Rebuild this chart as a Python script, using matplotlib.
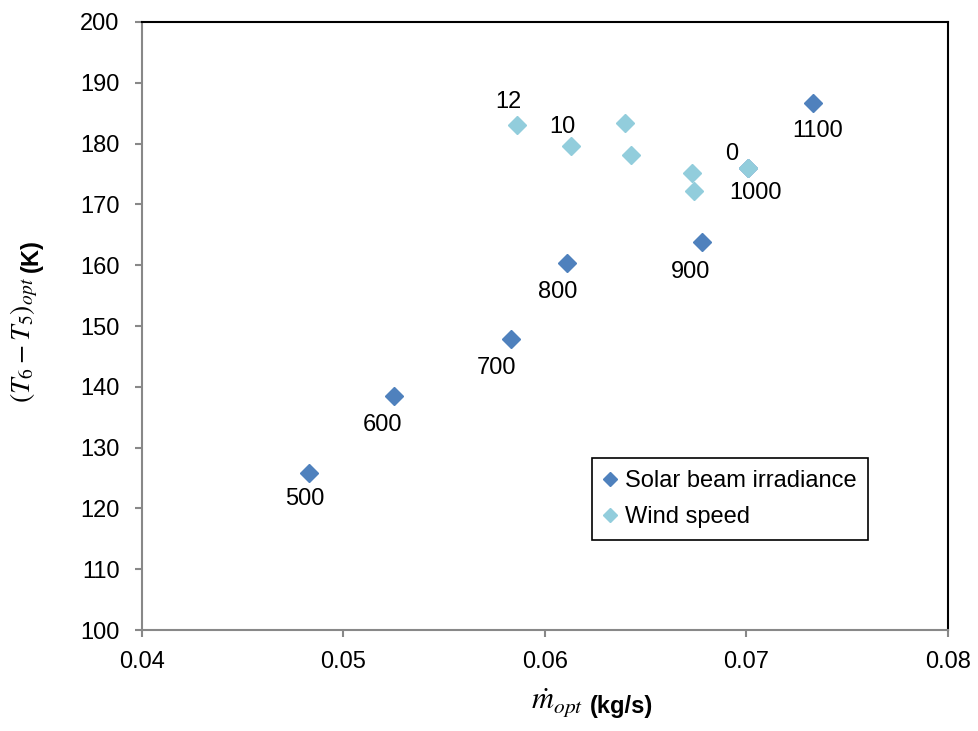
import matplotlib.pyplot as plt

plt.rcParams['font.family'] = ['Liberation Sans', 'DejaVu Sans']
plt.rcParams['mathtext.fontset'] = 'stix'

# solar beam irradiance series (W/m2)
solar_labels = ['500', '600', '700', '800', '900', '1000', '1100']
solar_m = [0.0483, 0.0525, 0.0583, 0.0611, 0.0678, 0.0701, 0.0733]
solar_dT = [125.8, 138.5, 147.8, 160.3, 163.8, 176.0, 186.6]

# wind speed series (m/s)
wind_labels = ['12', '10', '8', '6', '4', '2', '0']
wind_m = [0.0586, 0.0613, 0.0640, 0.0643, 0.0673, 0.0674, 0.0701]
wind_dT = [183.0, 179.6, 183.4, 178.2, 175.1, 172.2, 176.0]

dark = '#4F81BD'
light = '#92CDDC'

fig = plt.figure(figsize=(9.79, 7.31), dpi=100)
ax = fig.add_axes([0.145, 0.138, 0.823, 0.832])

ax.plot(solar_m, solar_dT, 'D', color=dark, ms=9, mec=dark, label='Solar beam irradiance', zorder=3)
ax.plot(wind_m, wind_dT, 'D', color=light, ms=9, mec=light, label='Wind speed', zorder=4)

# label offsets in pixels
solar_off = {'500': (-4, -26), '600': (-11, -29), '700': (-14, -29), '800': (-9, -29),
             '900': (-11, -30), '1000': (7, -25), '1100': (5, -28)}
for lab, x, y in zip(solar_labels, solar_m, solar_dT):
    ax.annotate(lab, (x, y), xytext=solar_off[lab], textcoords='offset pixels',
                ha='center', va='center', fontsize=17)

wind_off = {'12': (-8, 23), '10': (-9, 19), '0': (-17, 14)}
for lab, x, y in zip(wind_labels, wind_m, wind_dT):
    if lab in wind_off:
        ax.annotate(lab, (x, y), xytext=wind_off[lab], textcoords='offset pixels',
                    ha='center', va='center', fontsize=17)

ax.set_xlim(0.04, 0.08)
ax.set_ylim(100, 200)
ax.set_xticks([0.04, 0.05, 0.06, 0.07, 0.08])
ax.set_xticklabels(['0.04', '0.05', '0.06', '0.07', '0.08'])
ax.set_yticks(range(100, 201, 10))

ax.tick_params(axis='both', direction='out', length=5, width=1.5, color='#888888',
               labelsize=17, pad=11)
ax.tick_params(axis='x', pad=10)
for s in ['left', 'bottom']:
    ax.spines[s].set_color('#888888')
    ax.spines[s].set_linewidth(1.5)
for s in ['top', 'right']:
    ax.spines[s].set_color('black')
    ax.spines[s].set_linewidth(1.5)

# axis titles: serif italic math part + bold sans unit part
fig.text(583 / 979, 1 - 709 / 731, r'$\dot{m}_{opt}$', fontsize=22, ha='right', va='baseline')
fig.text(590 / 979, 1 - 713 / 731, '(kg/s)', fontsize=17, fontweight='bold', ha='left', va='baseline')
fig.text(24 / 979, 1 - 340 / 731, r'$\left(T_6-T_5\right)_{opt}$', fontsize=20,
         rotation=90, ha='center', va='center')
fig.text(31 / 979, 1 - 256 / 731, '(K)', fontsize=17, fontweight='bold',
         rotation=90, ha='center', va='center')

leg = ax.legend(loc='upper left', bbox_to_anchor=(0.558, 0.283), fontsize=17,
                fancybox=False, edgecolor='black', framealpha=1,
                handlelength=0.6, handletextpad=0.3, borderpad=0.5, labelspacing=0.6,
                markerscale=0.8, borderaxespad=0)
leg.get_frame().set_linewidth(1.2)

plt.savefig('out.png', dpi=100)
